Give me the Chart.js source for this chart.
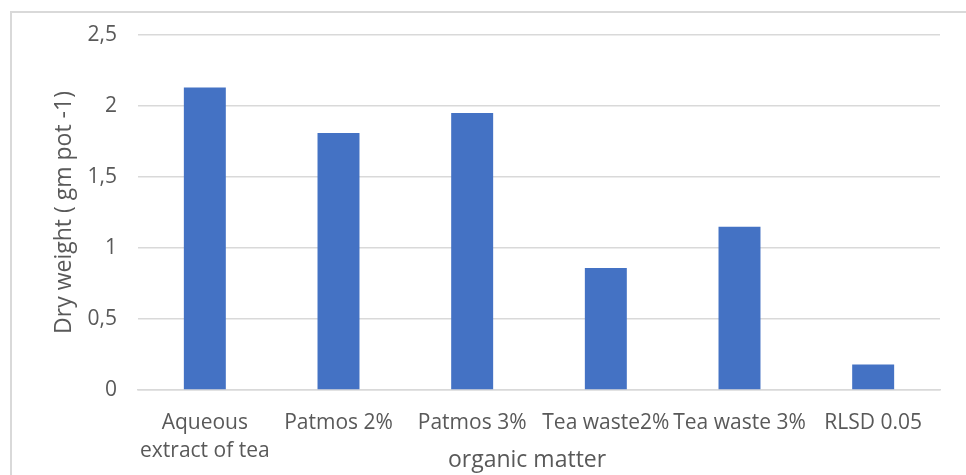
<!DOCTYPE html>
<html>
<head>
<meta charset="utf-8">
<script src="https://cdn.jsdelivr.net/npm/chart.js@4.4.1/dist/chart.umd.min.js"></script>
<style>
  html, body { margin: 0; padding: 0; background: #fff; }
  #wrap { position: relative; width: 966px; height: 475px; overflow: hidden; }
  #frame { position: absolute; left: 10px; top: 11px; width: 1000px; height: 500px;
           border-left: 2px solid #d9d9d9; border-top: 2px solid #d9d9d9; }
  canvas { position: absolute; left: 0; top: 0; }
</style>
</head>
<body>
<div id="wrap">
  <div id="frame"></div>
  <canvas id="chartDry" width="966" height="475"></canvas>
</div>
<script>
// Données
const categories = [["Aqueous", "extract of tea"], "Patmos 2%", "Patmos 3%", "Tea waste2%", "Tea waste 3%", "RLSD 0.05"];
const dryWeight = [2.13, 1.81, 1.95, 0.86, 1.15, 0.18];
const yTicks = [0, 0.5, 1, 1.5, 2, 2.5];

const textColor = "#595959";
const gridColor = "#d9d9d9";
const fontFamily = "'Open Sans', sans-serif";

const ctx = document.getElementById("chartDry").getContext("2d");

const chartDry = new Chart(ctx, {
  type: "bar",
  data: {
    labels: categories,
    datasets: [{
      label: "Dry weight",
      data: dryWeight,
      backgroundColor: "#4472c4",
      categoryPercentage: 1,
      barPercentage: 0.314
    }]
  },
  options: {
    responsive: false,
    animation: false,
    layout: { padding: { left: 0, right: 26, top: 35, bottom: 0 } },
    plugins: {
      legend: { display: false },
      tooltip: { enabled: false }
    },
    scales: {
      x: {
        grid: { display: false, drawTicks: false },
        border: { display: true, color: gridColor, width: 1.5 },
        ticks: {
          color: textColor,
          font: { family: fontFamily, size: 21, lineHeight: 1.33 },
          padding: 19,
          autoSkip: false,
          maxRotation: 0,
          minRotation: 0
        },
        title: {
          display: true,
          // espaces en fin de texte : le titre Excel est un peu décalé à gauche
          text: "organic matter    ",
          color: textColor,
          font: { family: fontFamily, size: 23, lineHeight: 1 },
          padding: { top: 0, bottom: 3.5 }
        },
        afterFit: (scale) => { scale.height = 85; }
      },
      y: {
        min: 0,
        max: 2.5,
        afterBuildTicks: (scale) => { scale.ticks = yTicks.map(v => ({ value: v })); },
        grid: { color: gridColor, lineWidth: 1.5, drawTicks: false },
        border: { display: false },
        ticks: {
          color: textColor,
          font: { family: fontFamily, size: 21 },
          padding: 21,
          callback: (v) => String(v).replace(".", ",")
        },
        title: {
          display: true,
          text: "Dry weight ( gm pot -1)",
          color: textColor,
          font: { family: fontFamily, size: 23, lineHeight: 1.2 },
          padding: { top: 51, bottom: 0 }
        },
        afterFit: (scale) => { scale.width = 138; }
      }
    }
  }
});
</script>
</body>
</html>
